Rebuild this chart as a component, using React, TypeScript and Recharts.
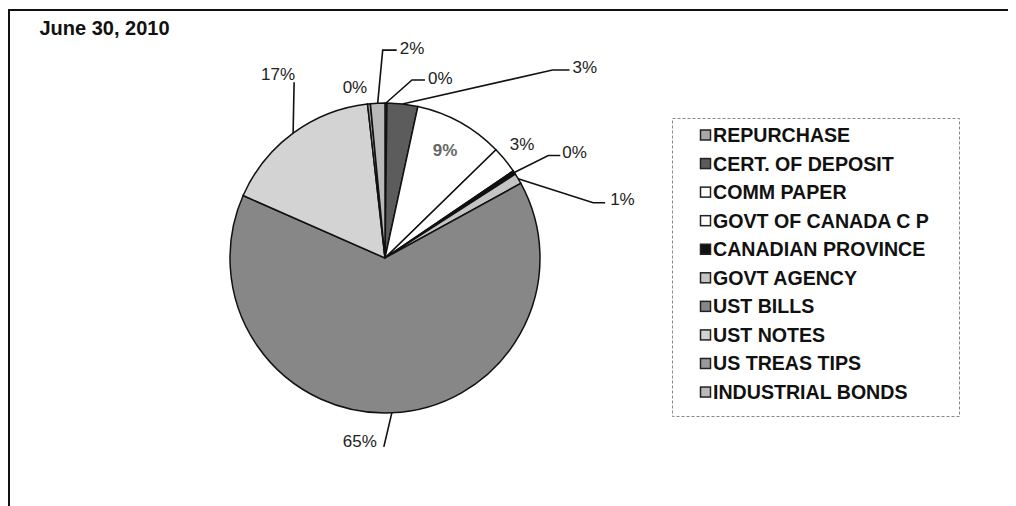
import React from 'react';
import { PieChart, Pie, Cell, Legend } from 'recharts';

const title = 'June 30, 2010';
const categories = [
  'REPURCHASE',
  'CERT. OF DEPOSIT',
  'COMM PAPER',
  'GOVT OF CANADA C P',
  'CANADIAN PROVINCE',
  'GOVT AGENCY',
  'UST BILLS',
  'UST NOTES',
  'US TREAS TIPS',
  'INDUSTRIAL BONDS',
];
const values = [0.2, 3.2, 9.3, 2.8, 0.4, 1.1, 64.6, 16.6, 0.3, 1.5];
const colors = [
  '#a9a9a9',
  '#5c5c5c',
  '#ffffff',
  '#ffffff',
  '#111111',
  '#c4c4c4',
  '#878787',
  '#d3d3d3',
  '#9a9a9a',
  '#b9b9b9',
];

const data = categories.map((name, i) => ({ name, value: values[i] }));

const FONT = '"Liberation Sans", Arial, Helvetica, sans-serif';
const RAD = Math.PI / 180;

type Layout =
  | { kind: 'inside'; r: number }
  | { kind: 'free'; dx: number; dy: number }
  | { kind: 'leader'; elbow: [number, number]; run: number; tx: number; ty: number; anchor?: 'start' | 'end' };

const LABEL_LAYOUT: Layout[] = [
  { kind: 'leader', elbow: [26, -23], run: 13, tx: 3, ty: 4 },
  { kind: 'leader', elbow: [150, -34], run: 17, tx: 3, ty: 3 },
  { kind: 'inside', r: 0.8 },
  { kind: 'free', dx: 17, dy: -16 },
  { kind: 'leader', elbow: [34, -17], run: 12, tx: 2, ty: 3 },
  { kind: 'leader', elbow: [75, 24], run: 12, tx: 5, ty: 2 },
  { kind: 'leader', elbow: [-8, 34], run: 0, tx: -7, ty: 0, anchor: 'end' },
  { kind: 'leader', elbow: [1, -51], run: 0, tx: 1, ty: -2, anchor: 'end' },
  { kind: 'free', dx: -14, dy: -17 },
  { kind: 'leader', elbow: [5, -53], run: 14, tx: 3, ty: 4 },
];

const renderLabel = (props: any) => {
  const { cx, cy, midAngle, outerRadius, percent, index } = props;
  const L = LABEL_LAYOUT[index];
  const txt = `${Math.round(percent * 100)}%`;
  const ex = cx + outerRadius * Math.cos(-midAngle * RAD);
  const ey = cy + outerRadius * Math.sin(-midAngle * RAD);
  if (!L) return null;
  if (L.kind === 'inside') {
    const r = outerRadius * L.r;
    const x = cx + r * Math.cos(-midAngle * RAD);
    const y = cy + r * Math.sin(-midAngle * RAD);
    return (
      <text x={x} y={y + 6} textAnchor="middle" fontFamily={FONT} fontSize={17} fontWeight="bold" fill="#666">
        {txt}
      </text>
    );
  }
  if (L.kind === 'free') {
    return (
      <text x={ex + L.dx} y={ey + L.dy + 6} textAnchor="middle" fontFamily={FONT} fontSize={17} fill="#222">
        {txt}
      </text>
    );
  }
  const bx = ex + L.elbow[0];
  const by = ey + L.elbow[1];
  const hx = bx + L.run;
  return (
    <g>
      <polyline points={`${ex},${ey} ${bx},${by} ${hx},${by}`} fill="none" stroke="#111" strokeWidth={1.6} />
      <text x={hx + L.tx} y={by + L.ty} textAnchor={L.anchor || 'start'} fontFamily={FONT} fontSize={17} fill="#222">
        {txt}
      </text>
    </g>
  );
};

const renderLegend = () => (
  <svg width={288} height={299} style={{ display: 'block' }}>
    <rect x={0.5} y={0.5} width={287} height={298} fill="#fff" stroke="#888" strokeDasharray="3 2" strokeWidth={1} />
    {categories.map((c, i) => {
      const yc = 17 + 28.56 * i;
      return (
        <g key={c}>
          <rect x={28.5} y={yc - 5} width={10} height={10} fill={colors[i]} stroke="#222" strokeWidth={1.5} />
          <text x={41} y={yc + 7} fontSize={19.6} fontWeight="bold" fontFamily={FONT} fill="#111">
            {c}
          </text>
        </g>
      );
    })}
  </svg>
);

export default function App() {
  return (
    <div style={{ position: 'relative', width: 1008, height: 498, background: '#fff' }}>
      <div style={{ position: 'absolute', left: 0, top: 1, width: 1008, height: 2, background: '#111' }} />
      <div style={{ position: 'absolute', left: 0, top: 1, width: 2, height: 497, background: '#111' }} />
      <div
        style={{
          position: 'absolute',
          left: 31.5,
          top: 10,
          fontFamily: FONT,
          fontSize: 20,
          lineHeight: '20px',
          fontWeight: 'bold',
          color: '#111',
          whiteSpace: 'nowrap',
        }}
      >
        {title}
      </div>
      <PieChart width={1008} height={498} margin={{ top: 0, right: 0, bottom: 0, left: 0 }}>
        <Pie
          data={data}
          dataKey="value"
          nameKey="name"
          cx={377}
          cy={250}
          outerRadius={155}
          startAngle={90}
          endAngle={-270}
          stroke="#111"
          strokeWidth={1.5}
          label={renderLabel}
          labelLine={false}
          isAnimationActive={false}
        >
          {data.map((d, i) => (
            <Cell key={d.name} fill={colors[i]} stroke="#111" strokeWidth={1.5} />
          ))}
        </Pie>
        <Legend
          layout="vertical"
          align="right"
          verticalAlign="middle"
          content={renderLegend}
          wrapperStyle={{ left: 664, top: 110, width: 288, height: 299 }}
        />
      </PieChart>
    </div>
  );
}
